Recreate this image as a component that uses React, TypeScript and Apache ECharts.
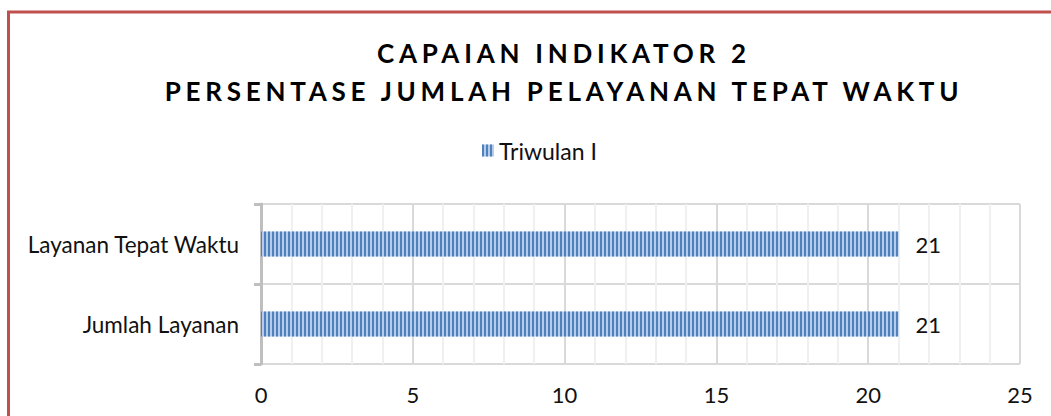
import React, { useEffect, useRef } from "react";
import * as echarts from "echarts";

const categories = ["Jumlah Layanan", "Layanan Tepat Waktu"];
const seriesName = "Triwulan I";
const values = [21, 21];
const titleLine1 = "CAPAIAN INDIKATOR 2";
const titleLine2 = "PERSENTASE JUMLAH PELAYANAN TEPAT WAKTU";

export default function App() {
  const ref = useRef<HTMLDivElement>(null);
  useEffect(() => {
    if (!ref.current) return;
    const chart = echarts.init(ref.current, undefined, { renderer: "svg" });
    const font = "Lato";
    chart.setOption({
      animation: false,
      backgroundColor: "#ffffff",
      title: [
        {
          text: titleLine1,
          left: 564,
          top: 38,
          textAlign: "center",
          padding: 0,
          textStyle: { fontFamily: font, fontWeight: "bold", fontSize: 26, lineHeight: 30, color: "#000" },
        },
        {
          text: titleLine2,
          left: 564,
          top: 76,
          textAlign: "center",
          padding: 0,
          textStyle: { fontFamily: font, fontWeight: "bold", fontSize: 26, lineHeight: 30, color: "#000" },
        },
      ],
      graphic: [
        {
          type: "rect",
          silent: true,
          shape: { x: 8.5, y: 12, width: 1200, height: 600 },
          style: { fill: "none", stroke: "#c0504d", lineWidth: 3 },
        },
      ],
      legend: {
        data: [seriesName],
        left: 482,
        top: 139,
        padding: 0,
        itemWidth: 12,
        itemHeight: 12,
        icon: "rect",
        textStyle: { fontFamily: font, fontSize: 23, color: "#111" },
      },
      grid: { left: 261, right: 31, top: 204, bottom: 52, containLabel: false },
      xAxis: {
        type: "value",
        min: 0,
        max: 25,
        interval: 5,
        axisLine: { show: false },
        axisTick: { show: false },
        axisLabel: { fontFamily: font, fontSize: 22, color: "#111", margin: 19 },
        splitLine: { show: true, lineStyle: { color: "#d9d9d9", width: 2 } },
        minorTick: { show: false, splitNumber: 5 },
        minorSplitLine: { show: true, lineStyle: { color: "#f0f0f0", width: 2 } },
      },
      yAxis: {
        type: "category",
        data: categories,
        axisLine: { show: true, lineStyle: { color: "#bfbfbf", width: 3 } },
        axisTick: { show: true, length: 7, lineStyle: { color: "#bfbfbf", width: 3 } },
        axisLabel: { fontFamily: font, fontSize: 22.5, color: "#111", margin: 22 },
        splitLine: { show: true, lineStyle: { color: "#d9d9d9", width: 2 } },
      },
      series: [
        {
          type: "bar",
          name: seriesName,
          data: values,
          barWidth: 25,
          itemStyle: {
            color: "#b4cbea",
            decal: {
              symbol: "rect",
              symbolSize: 1,
              dashArrayX: [1.5, 1.5],
              dashArrayY: [10, 0],
              rotation: 0,
              color: "#4f81bd",
            },
          },
          label: {
            show: true,
            position: "right",
            distance: 17,
            fontFamily: font,
            fontSize: 22,
            color: "#111",
          },
        },
      ],
    });
    const svg = ref.current.querySelector("svg");
    if (svg) {
      svg.querySelectorAll("text").forEach((t) => {
        const s = t.textContent || "";
        if (s === titleLine1 || s === titleLine2) {
          (t as SVGTextElement).style.letterSpacing = "4.75px";
        }
      });
    }
    return () => chart.dispose();
  }, []);
  return (
    <div
      ref={ref}
      style={{ position: "fixed", left: 0, top: 0, width: 1051, height: 416 }}
    />
  );
}
